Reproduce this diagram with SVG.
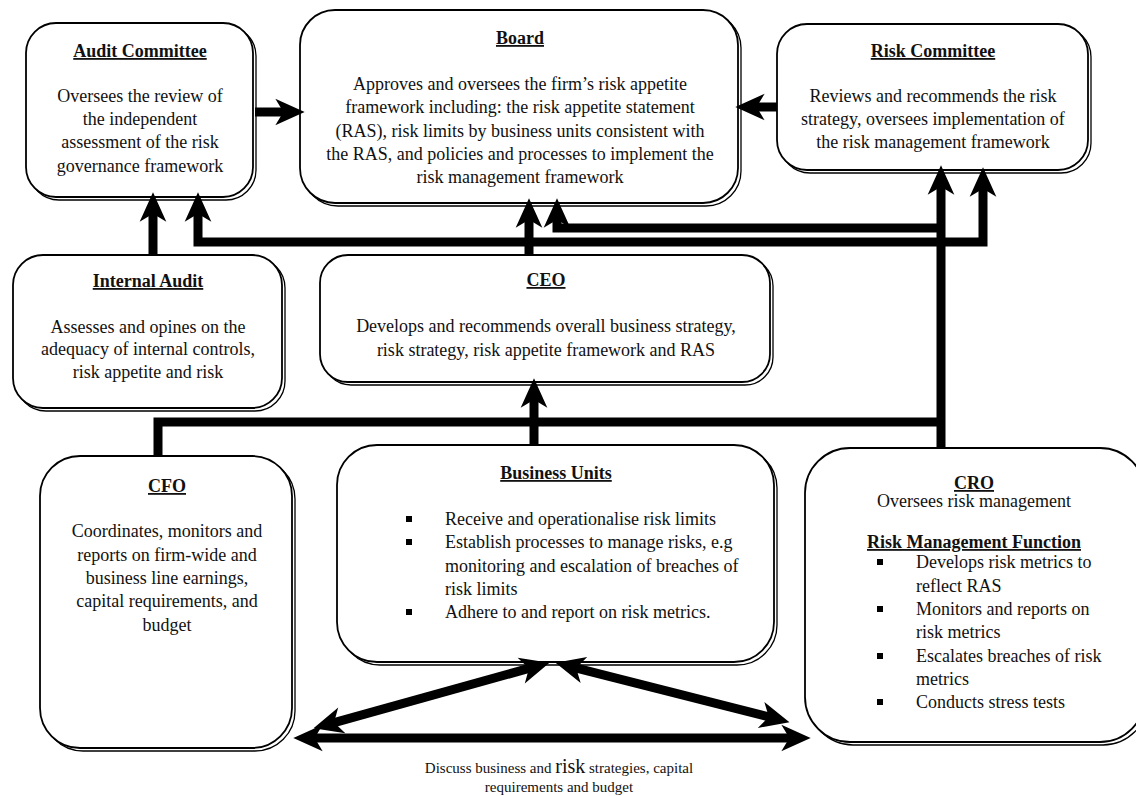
<svg xmlns="http://www.w3.org/2000/svg" width="1136" height="796" viewBox="0 0 1136 796">
<style>
.sh{fill:#fff;stroke:#000;stroke-width:1.3}
.bx{fill:#fff;stroke:#000;stroke-width:1.8}
text{font-family:"Liberation Serif","Times New Roman",serif;font-size:18px;fill:#111}
.c{text-anchor:middle}
.t{font-weight:bold;text-decoration:underline}
.ln{fill:none;stroke:#000;stroke-width:9;stroke-linejoin:miter}
.sm{font-size:15px}
</style>
<defs>
<marker id="ah" markerUnits="userSpaceOnUse" markerWidth="40" markerHeight="40" viewBox="-5 -15 30 30" refX="6" refY="0" orient="auto-start-reverse">
<path d="M-2,-10 L20,0 L-2,10 L4,0 Z" fill="#000"/>
</marker>
</defs>

<g id="audit-committee">
<rect class="sh" x="29" y="26" width="227" height="174" rx="30"/>
<rect class="bx" x="26" y="23" width="227" height="174" rx="30"/>
<text class="c t" x="140" y="57">Audit Committee</text>
<text class="c" x="140" y="102">Oversees the review of</text>
<text class="c" x="140" y="125">the independent</text>
<text class="c" x="140" y="148">assessment of the risk</text>
<text class="c" x="140" y="172">governance framework</text>
</g>

<g id="board">
<rect class="sh" x="303" y="13" width="438" height="193" rx="35"/>
<rect class="bx" x="300" y="10" width="438" height="193" rx="35"/>
<text class="c t" x="520" y="44">Board</text>
<text class="c" x="520" y="90">Approves and oversees the firm’s risk appetite</text>
<text class="c" x="520" y="113">framework including: the risk appetite statement</text>
<text class="c" x="520" y="137">(RAS), risk limits by business units consistent with</text>
<text class="c" x="520" y="160">the RAS, and policies and processes to implement the</text>
<text class="c" x="520" y="183">risk management framework</text>
</g>

<g id="risk-committee">
<rect class="sh" x="780" y="27" width="311" height="146" rx="30"/>
<rect class="bx" x="777" y="24" width="311" height="146" rx="30"/>
<text class="c t" x="933" y="57">Risk Committee</text>
<text class="c" x="933" y="102">Reviews and recommends the risk</text>
<text class="c" x="933" y="125">strategy, oversees implementation of</text>
<text class="c" x="933" y="148">the risk management framework</text>
</g>

<g id="internal-audit">
<rect class="sh" x="16" y="258" width="269" height="153" rx="30"/>
<rect class="bx" x="13" y="255" width="269" height="153" rx="30"/>
<text class="c t" x="148" y="287">Internal Audit</text>
<text class="c" x="148" y="333">Assesses and opines on the</text>
<text class="c" x="148" y="355">adequacy of internal controls,</text>
<text class="c" x="148" y="378">risk appetite and risk</text>
</g>

<g id="ceo">
<rect class="sh" x="323" y="258" width="450" height="127" rx="28"/>
<rect class="bx" x="320" y="255" width="450" height="127" rx="28"/>
<text class="c t" x="546" y="286">CEO</text>
<text class="c" x="546" y="332">Develops and recommends overall business strategy,</text>
<text class="c" x="546" y="356">risk strategy, risk appetite framework and RAS</text>
</g>

<g id="cfo">
<rect class="sh" x="43" y="459" width="252" height="292" rx="40"/>
<rect class="bx" x="40" y="456" width="252" height="292" rx="40"/>
<text class="c t" x="167" y="492">CFO</text>
<text class="c" x="167" y="537">Coordinates, monitors and</text>
<text class="c" x="167" y="561">reports on firm-wide and</text>
<text class="c" x="167" y="584">business line earnings,</text>
<text class="c" x="167" y="607">capital requirements, and</text>
<text class="c" x="167" y="631">budget</text>
</g>

<g id="business-units">
<rect class="sh" x="340" y="448" width="437" height="217" rx="40"/>
<rect class="bx" x="337" y="445" width="437" height="217" rx="40"/>
<text class="c t" x="556" y="479">Business Units</text>
<rect x="406" y="516" width="6" height="6" fill="#000"/>
<text x="445" y="525">Receive and operationalise risk limits</text>
<rect x="406" y="539" width="6" height="6" fill="#000"/>
<text x="445" y="548">Establish processes to manage risks, e.g</text>
<text x="445" y="572">monitoring and escalation of breaches of</text>
<text x="445" y="595">risk limits</text>
<rect x="406" y="609" width="6" height="6" fill="#000"/>
<text x="445" y="618">Adhere to and report on risk metrics.</text>
</g>

<g id="cro">
<rect class="sh" x="808" y="451" width="340" height="294" rx="45"/>
<rect class="bx" x="805" y="448" width="340" height="294" rx="45"/>
<text class="c t" x="974" y="489">CRO</text>
<text class="c" x="974" y="507">Oversees risk management</text>
<text class="c t" x="974" y="548">Risk Management Function</text>
<rect x="877" y="559" width="6" height="6" fill="#000"/>
<text x="916" y="568">Develops risk metrics to</text>
<text x="916" y="592">reflect RAS</text>
<rect x="877" y="606" width="6" height="6" fill="#000"/>
<text x="916" y="615">Monitors and reports on</text>
<text x="916" y="638">risk metrics</text>
<rect x="877" y="653" width="6" height="6" fill="#000"/>
<text x="916" y="662">Escalates breaches of risk</text>
<text x="916" y="685">metrics</text>
<rect x="877" y="699" width="6" height="6" fill="#000"/>
<text x="916" y="708">Conducts stress tests</text>
</g>

<g id="connectors">
<path class="ln" d="M255,112 H286" marker-end="url(#ah)"/>
<path class="ln" d="M777,107 H754" marker-end="url(#ah)"/>
<path class="ln" d="M153,255 V211" marker-end="url(#ah)"/>
<path class="ln" d="M198,211 V242 H983 V186" marker-start="url(#ah)" marker-end="url(#ah)"/>
<path class="ln" d="M529,255 V217" marker-end="url(#ah)"/>
<path class="ln" d="M941,228 H557 V217" marker-end="url(#ah)"/>
<path class="ln" d="M941,447 V184" marker-end="url(#ah)"/>
<path class="ln" d="M158,456 V422 H941"/>
<path class="ln" d="M534,445 V397" marker-end="url(#ah)"/>
<path class="ln" d="M312,738 H792" marker-start="url(#ah)" marker-end="url(#ah)"/>
<path class="ln" d="M331.5,723.3 L531.5,667.7" marker-start="url(#ah)" marker-end="url(#ah)"/>
<path class="ln" d="M573.6,667.4 L771.4,717.6" marker-start="url(#ah)" marker-end="url(#ah)"/>
</g>

<g id="label-discuss">
<text class="c sm" x="559" y="773">Discuss business and <tspan font-size="20">risk</tspan> strategies, capital</text>
<text class="c sm" x="559" y="792">requirements and budget</text>
</g>
</svg>
